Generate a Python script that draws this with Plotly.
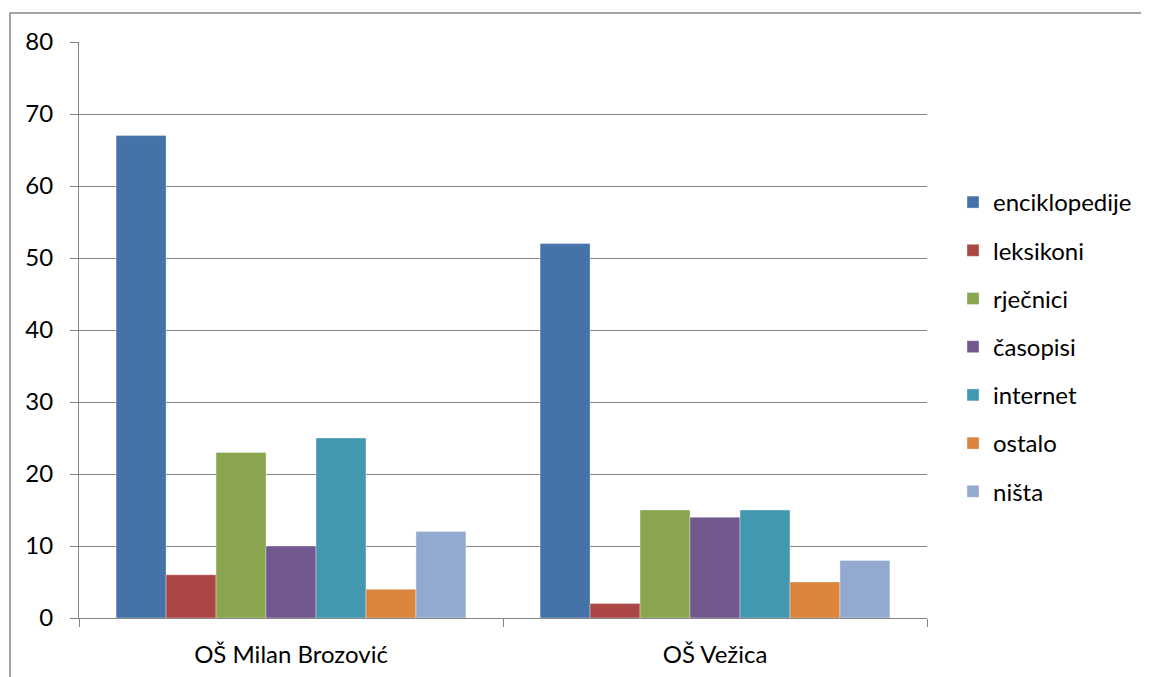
import plotly.graph_objects as go

categories = ["OŠ Milan Brozović", "OŠ Vežica"]
series_names = ["enciklopedije", "leksikoni", "rječnici", "časopisi", "internet", "ostalo", "ništa"]
enciklopedije = [67, 52]
leksikoni = [6, 2]
rjecnici = [23, 15]
casopisi = [10, 14]
internet = [25, 15]
ostalo = [4, 5]
nista = [12, 8]
y_ticks = [0, 10, 20, 30, 40, 50, 60, 70, 80]

series_values = [enciklopedije, leksikoni, rjecnici, casopisi, internet, ostalo, nista]
colors = ["#4572A7", "#AA4643", "#89A54E", "#71588F", "#4198AF", "#DB843D", "#93A9CF"]

FONT = "Lato, 'Noto Sans', sans-serif"
OFF = 8  # browser body margin

fig = go.Figure()
for i, (name, vals) in enumerate(zip(series_names, series_values)):
    fig.add_trace(go.Bar(
        x=categories, y=vals, name=name,
        marker=dict(color=colors[i], line=dict(color="rgba(255,255,255,0.35)", width=1)),
        legendgroup=name,
    ))

W, H = 1149 - OFF, 677 - OFF
L, R, T, B = 79 - OFF, 927 - OFF, 42 - OFF, 618 - OFF
pw, ph = R - L, B - T

def px_x(p):
    return (p - OFF - L) / pw

def px_y(p):
    return (B - (p - OFF)) / ph

fig.update_layout(
    width=W, height=H,
    margin=dict(l=L, r=W - R, t=T, b=H - B, pad=0, autoexpand=False),
    paper_bgcolor="white", plot_bgcolor="white",
    barmode="group", bargap=0.175, bargroupgap=0,
    font=dict(family=FONT, size=24, color="#000000"),
    legend=dict(
        x=px_x(953), y=px_y(180), xanchor="left", yanchor="top",
        font=dict(family=FONT, size=24, color="#000000"),
        tracegroupgap=14, itemwidth=30,
        bgcolor="rgba(0,0,0,0)",
    ),
    xaxis=dict(
        type="category", showgrid=False, showline=True, linecolor="#868686", linewidth=1,
        ticks="outside", tickson="boundaries", ticklen=8, tickcolor="#868686", tickwidth=1,
        tickfont=dict(family=FONT, size=24, color="#000000"),
        ticklabelstandoff=15,
    ),
    yaxis=dict(
        range=[0, 80], tickvals=y_ticks, showgrid=True, gridcolor="#868686", gridwidth=1,
        showline=True, linecolor="#868686", linewidth=1,
        ticks="outside", ticklen=8, tickcolor="#868686", tickwidth=1,
        tickfont=dict(family=FONT, size=24, color="#000000"),
        zeroline=False, ticklabelstandoff=12,
    ),
    shapes=[dict(
        type="rect", xref="paper", yref="paper",
        x0=px_x(10), x1=px_x(1170), y0=px_y(13), y1=px_y(700),
        line=dict(color="#868686", width=1.5), fillcolor="rgba(0,0,0,0)", layer="below",
    )],
)

fig.write_html("out.html")
